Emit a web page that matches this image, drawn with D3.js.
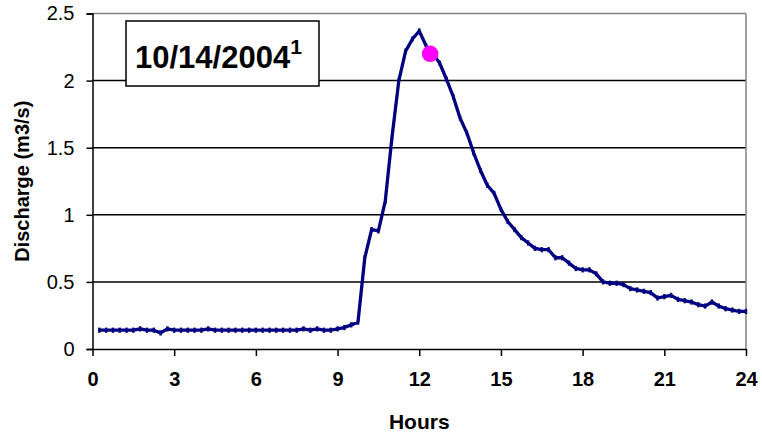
<!DOCTYPE html>
<html>
<head>
<meta charset="utf-8">
<script src="https://cdn.jsdelivr.net/npm/d3@7"></script>
<style>
  body { margin: 0; background: #fff; }
  svg { display: block; font-family: "Liberation Sans", Arial, sans-serif; }
</style>
</head>
<body>
<svg id="chart"></svg>
<script>
/* donnees : debit toutes les 15 min */
const hours = [
  0.25, 0.5, 0.75, 1, 1.25, 1.5, 1.75, 2, 2.25, 2.5, 2.75, 3,
  3.25, 3.5, 3.75, 4, 4.25, 4.5, 4.75, 5, 5.25, 5.5, 5.75, 6,
  6.25, 6.5, 6.75, 7, 7.25, 7.5, 7.75, 8, 8.25, 8.5, 8.75, 9,
  9.25, 9.5, 9.75, 10, 10.25, 10.5, 10.75, 11, 11.25, 11.5, 11.75, 12,
  12.25, 12.5, 12.75, 13, 13.25, 13.5, 13.75, 14, 14.25, 14.5, 14.75, 15,
  15.25, 15.5, 15.75, 16, 16.25, 16.5, 16.75, 17, 17.25, 17.5, 17.75, 18,
  18.25, 18.5, 18.75, 19, 19.25, 19.5, 19.75, 20, 20.25, 20.5, 20.75, 21,
  21.25, 21.5, 21.75, 22, 22.25, 22.5, 22.75, 23, 23.25, 23.5, 23.75, 24
]
const discharge = [
  0.14, 0.14, 0.14, 0.14, 0.14, 0.14, 0.15, 0.14, 0.14, 0.12, 0.15, 0.14,
  0.14, 0.14, 0.14, 0.14, 0.15, 0.14, 0.14, 0.14, 0.14, 0.14, 0.14, 0.14,
  0.14, 0.14, 0.14, 0.14, 0.14, 0.14, 0.15, 0.14, 0.15, 0.14, 0.14, 0.15,
  0.16, 0.18, 0.20, 0.68, 0.89, 0.88, 1.10, 1.58, 2.00, 2.22, 2.31, 2.37,
  2.26, 2.20, 2.13, 2.01, 1.88, 1.72, 1.61, 1.46, 1.33, 1.22, 1.16, 1.04,
  0.95, 0.89, 0.83, 0.79, 0.75, 0.74, 0.74, 0.68, 0.68, 0.64, 0.60, 0.59,
  0.59, 0.56, 0.50, 0.49, 0.49, 0.48, 0.45, 0.44, 0.43, 0.42, 0.38, 0.39,
  0.40, 0.37, 0.36, 0.35, 0.33, 0.32, 0.35, 0.32, 0.30, 0.29, 0.28, 0.28
]
/* point marque en magenta */
const sampleHour = [12.4]
const sampleValue = [2.2]

const xTicks = [0, 3, 6, 9, 12, 15, 18, 21, 24]
const yTicks = [0, 0.5, 1, 1.5, 2, 2.5]
const dateLabel = '10/14/2004'
const noteMark = '1'

const width = 762, height = 438
const margin = {top: 13.5, right: 16, bottom: 89, left: 92.5}
const navy = '#000080'

const svg = d3.select('#chart').attr('width', width).attr('height', height)

const x = d3.scaleLinear().domain([0, 24]).range([margin.left, width - margin.right])
const y = d3.scaleLinear().domain([0, 2.5]).range([height - margin.bottom, margin.top])

/* lignes de grille */
svg.append('g')
  .selectAll('line')
  .data(yTicks.filter(d => d > 0))
  .enter()
  .append('line')
  .attr('x1', x(0)).attr('x2', x(24))
  .attr('y1', d => y(d)).attr('y2', d => y(d))
  .attr('stroke', d => d === 2.5 ? '#808080' : '#000')
  .attr('stroke-width', 1.5)

/* bordure droite */
svg.append('line')
  .attr('x1', x(24)).attr('x2', x(24))
  .attr('y1', y(0)).attr('y2', y(2.5))
  .attr('stroke', '#808080').attr('stroke-width', 1.5)

/* axe y */
const yAxis = svg.append('g')
  .attr('transform', `translate(${x(0)},0)`)
  .call(d3.axisLeft(y).tickValues(yTicks).tickSize(6).tickPadding(12)
    .tickFormat(d3.format('')))
yAxis.selectAll('path, line').attr('stroke', '#000').attr('stroke-width', 1.5)
yAxis.selectAll('text').attr('font-size', 20).attr('fill', '#000')
  .attr('font-family', '"Liberation Sans", Arial, sans-serif')

/* axe x */
const xAxis = svg.append('g')
  .attr('transform', `translate(0,${y(0)})`)
  .call(d3.axisBottom(x).tickValues(xTicks).tickSize(7).tickPadding(16)
    .tickSizeOuter(0))
xAxis.selectAll('path, line').attr('stroke', '#000').attr('stroke-width', 1.5)
xAxis.selectAll('text').attr('font-size', 20).attr('font-weight', 'bold').attr('fill', '#000')
  .attr('font-family', '"Liberation Sans", Arial, sans-serif')

/* titres des axes */
svg.append('text')
  .attr('x', (x(0) + x(24)) / 2)
  .attr('y', 429)
  .attr('text-anchor', 'middle')
  .attr('font-size', 21).attr('font-weight', 'bold')
  .text('Hours')

svg.append('text')
  .attr('transform', `translate(28.5,${(y(0) + y(2.5)) / 2}) rotate(-90)`)
  .attr('text-anchor', 'middle')
  .attr('font-size', 20).attr('font-weight', 'bold')
  .text('Discharge (m3/s)')

/* courbe du debit */
const line = d3.line()
  .x((d, i) => x(hours[i]))
  .y(d => y(d))

svg.append('path')
  .datum(discharge)
  .attr('d', line)
  .attr('fill', 'none')
  .attr('stroke', navy)
  .attr('stroke-width', 3.3)
  .attr('stroke-linejoin', 'round')

/* petits marqueurs Excel sur chaque point */
svg.append('g')
  .selectAll('rect')
  .data(discharge)
  .enter()
  .append('rect')
  .attr('x', (d, i) => x(hours[i]) - 1.2)
  .attr('y', d => y(d) - 2.6)
  .attr('width', 2.4).attr('height', 5.2)
  .attr('fill', navy)

/* point magenta */
svg.selectAll('circle.sample')
  .data(sampleValue)
  .enter()
  .append('circle')
  .attr('class', 'sample')
  .attr('cx', (d, i) => x(sampleHour[i]))
  .attr('cy', d => y(d))
  .attr('r', 8.3)
  .attr('fill', '#ff00ff')

/* encadre de la date */
svg.append('rect')
  .attr('x', 126).attr('y', 21)
  .attr('width', 193).attr('height', 65)
  .attr('fill', '#fff').attr('stroke', '#000').attr('stroke-width', 1.5)

const note = svg.append('text')
  .attr('x', 135).attr('y', 68)
  .attr('font-size', 31).attr('font-weight', 'bold')
note.append('tspan').text(dateLabel)
note.append('tspan').attr('font-size', 21).attr('dy', -14).text(noteMark)
</script>
</body>
</html>
